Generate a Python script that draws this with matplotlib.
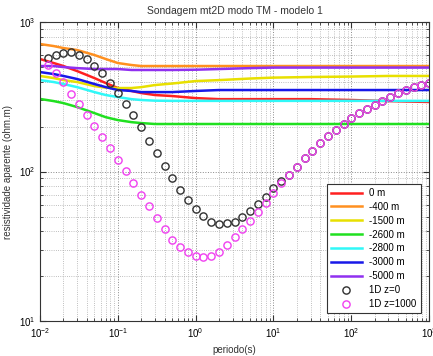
import numpy as np
import matplotlib
matplotlib.use('Agg')
import matplotlib.pyplot as plt
from matplotlib.ticker import LogLocator, NullFormatter

plt.rcParams['font.family'] = ['Liberation Sans', 'DejaVu Sans']

# periodos (s) onde as curvas 2D foram lidas
per_line = [0.01, 0.015, 0.02, 0.03, 0.05, 0.07, 0.1, 0.15, 0.2, 0.3, 0.5,
            1, 2, 5, 10, 30, 100, 300, 1000]

rho_0 = [566, 532, 508, 470, 422, 391, 362, 346, 335, 325, 320,
         310, 305, 305, 305, 305, 301, 296, 292]
rho_400 = [713, 691, 670, 650, 602, 566, 532, 516, 508, 508, 508,
           508, 508, 508, 508, 508, 508, 508, 508]
rho_1500 = [436, 422, 409, 397, 373, 364, 362, 362, 367, 379, 388,
            403, 409, 419, 425, 429, 432, 436, 436]
rho_2600 = [306, 296, 287, 270, 246, 231, 221, 214, 211, 208, 208,
            208, 208, 208, 208, 208, 208, 208, 208]
rho_2800 = [409, 397, 385, 367, 340, 325, 315, 305, 301, 298, 297,
            297, 297, 297, 297, 297, 297, 297, 297]
rho_3000 = [463, 449, 436, 416, 385, 367, 351, 346, 340, 340, 340,
            346, 351, 351, 351, 351, 351, 351, 351]
rho_5000 = [508, 508, 500, 492, 485, 485, 485, 478, 478, 478, 478,
            480, 485, 492, 496, 496, 496, 496, 496]

# curvas 1D (0.1 decada de espacamento, 10^-1.9 ate 10^3)
per_1d = 10 ** np.arange(-1.9, 3.001, 0.1)
rho_1d_z0 = [574, 602, 620, 630, 602, 566, 508, 456, 391, 335,
             283, 239, 199, 160, 133, 109, 90.5, 75.2, 64.5, 56.1,
             50.4, 45.9, 44.6, 45.2, 45.9, 49.6, 54.4, 60.6, 67.5, 77.5,
             86.4, 94.8, 107, 123, 137, 155, 173, 190, 208, 228,
             246, 262, 278, 296, 315, 335, 351, 367, 379, 391]
rho_1d_z1000 = [516, 456, 397, 330, 283, 239, 201, 170, 144, 119,
                101, 83.8, 69.6, 58.8, 48.9, 41.3, 34.8, 31.3, 28.9, 27.2,
                26.8, 27.2, 28.9, 32.2, 36.5, 41.3, 46.7, 53.6, 61.5, 71.8,
                83.8, 94.8, 107, 123, 137, 155, 173, 190, 208, 228,
                246, 262, 278, 296, 315, 335, 351, 367, 379, 391]

labels = ['0 m', '-400 m', '-1500 m', '-2600 m', '-2800 m', '-3000 m', '-5000 m']
series = [rho_0, rho_400, rho_1500, rho_2600, rho_2800, rho_3000, rho_5000]
colors = ['#ff2020', '#ff9020', '#e8e000', '#20e020', '#30f8f8', '#1818e8', '#9030f0']

fig = plt.figure(figsize=(4.33, 3.56), dpi=100)
ax = fig.add_axes([0.0924, 0.0983, 0.8986, 0.8397])

for rho, lab, c in zip(series, labels, colors):
    ax.plot(per_line, rho, color=c, lw=1.8, label=lab)

ax.plot(per_1d, rho_1d_z0, ls='none', marker='o', ms=5.2, mfc='none',
        mec='#303030', mew=1.0, label='1D z=0')
ax.plot(per_1d, rho_1d_z1000, ls='none', marker='o', ms=5.2, mfc='none',
        mec='#f040f0', mew=1.0, label='1D z=1000')

ax.set_xscale('log')
ax.set_yscale('log')
ax.set_xlim(1e-2, 1e3)
ax.set_ylim(1e1, 1e3)
ax.xaxis.set_major_locator(LogLocator(base=10, numticks=10))
ax.xaxis.set_minor_locator(LogLocator(base=10, subs=np.arange(2, 10), numticks=20))
ax.yaxis.set_minor_locator(LogLocator(base=10, subs=np.arange(2, 10), numticks=20))
ax.xaxis.set_minor_formatter(NullFormatter())
ax.yaxis.set_minor_formatter(NullFormatter())

ax.grid(True, which='major', ls=':', color='#888888', lw=0.7)
ax.grid(True, which='minor', ls=':', color='#aaaaaa', lw=0.6)
ax.tick_params(which='both', direction='in', top=True, right=True, labelsize=7, color='#333333')
ax.tick_params(which='major', length=4)
ax.tick_params(which='minor', length=2)
for s in ax.spines.values():
    s.set_color('#333333')

ax.set_title('Sondagem mt2D modo TM - modelo 1', fontsize=7.5, color='#333333', pad=6)
ax.set_xlabel('periodo(s)', fontsize=7, color='#333333')
ax.set_ylabel('resistividade aparente (ohm.m)', fontsize=7, color='#333333')

leg = ax.legend(loc='lower right', bbox_to_anchor=(0.978, 0.027), borderaxespad=0,
                fontsize=7, handlelength=3.2, labelspacing=0.4, fancybox=False,
                framealpha=1, edgecolor='#333333')
leg.get_frame().set_linewidth(0.8)

fig.savefig('out.png', dpi=100)
